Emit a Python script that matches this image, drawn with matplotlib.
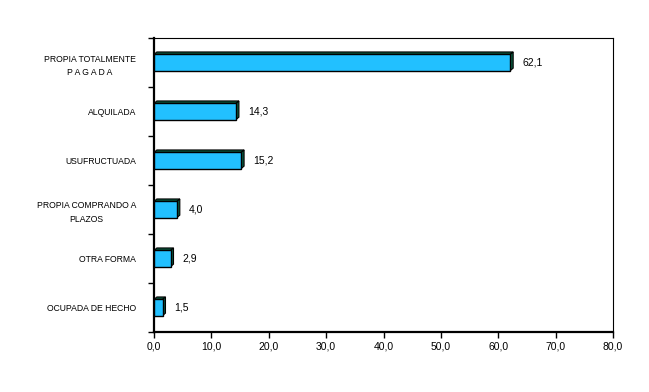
import matplotlib
matplotlib.use("Agg")
import matplotlib.pyplot as plt
from matplotlib.patches import Polygon, Rectangle
from matplotlib.ticker import FixedLocator
import numpy as np

categories = ["PROPIA TOTALMENTE\nP A G A D A", "ALQUILADA", "USUFRUCTUADA",
              "PROPIA COMPRANDO A\nPLAZOS", "OTRA FORMA", "OCUPADA DE HECHO"]
values = [62.1, 14.3, 15.2, 4.0, 2.9, 1.5]
value_labels = ["62,1", "14,3", "15,2", "4,0", "2,9", "1,5"]
xticks = [0, 10, 20, 30, 40, 50, 60, 70, 80]
xtick_labels = ["0,0", "10,0", "20,0", "30,0", "40,0", "50,0", "60,0", "70,0", "80,0"]

plt.rcParams['font.family'] = ['Liberation Sans', 'DejaVu Sans']

fig = plt.figure(figsize=(6.49, 3.92), dpi=100)
ax = fig.add_axes([154/649, 1-332/392, (613-154)/649, (332-38)/392])

face = "#22C0FF"
side = "#0A5A40"
h = 0.33
dx = 0.5    # depth in data x units (~3px)
dy = 0.05   # depth in data y units (~2-3px)
for i, v in enumerate(values):
    top = i - h/2   # y axis inverted: smaller y is up
    bot = i + h/2
    ax.add_patch(Polygon([(0, top), (v, top), (v+dx, top-dy), (dx, top-dy)],
                         closed=True, facecolor=side, edgecolor="black", lw=0.8, zorder=2))
    ax.add_patch(Polygon([(v, top), (v+dx, top-dy), (v+dx, bot-dy), (v, bot)],
                         closed=True, facecolor=side, edgecolor="black", lw=0.8, zorder=2))
    ax.add_patch(Rectangle((0, top), v, h, facecolor=face, edgecolor="black", lw=1.0, zorder=3))
    ax.text(v + dx + 1.6, i, value_labels[i], va="center", ha="left", fontsize=7.5, zorder=4)

ax.set_xlim(0, 80)
ax.set_ylim(len(categories) - 0.5, -0.5)
ax.set_xticks(xticks)
ax.set_xticklabels(xtick_labels, fontsize=7.5)
ax.set_yticks(range(len(categories)))
ax.set_yticklabels(categories, fontsize=6.2, multialignment="center", linespacing=1.6)
ax.yaxis.set_minor_locator(FixedLocator(np.arange(-0.5, len(categories), 1.0)))
ax.tick_params(axis="y", which="major", length=0, pad=13)
ax.tick_params(axis="y", which="minor", length=4, width=1, direction="out")
ax.tick_params(axis="x", which="major", length=4, width=1, direction="out", pad=3)
for s in ["top", "right"]:
    ax.spines[s].set_linewidth(0.8)
ax.spines["left"].set_linewidth(1.6)
ax.spines["bottom"].set_linewidth(1.6)

fig.savefig("out.png", dpi=100)
